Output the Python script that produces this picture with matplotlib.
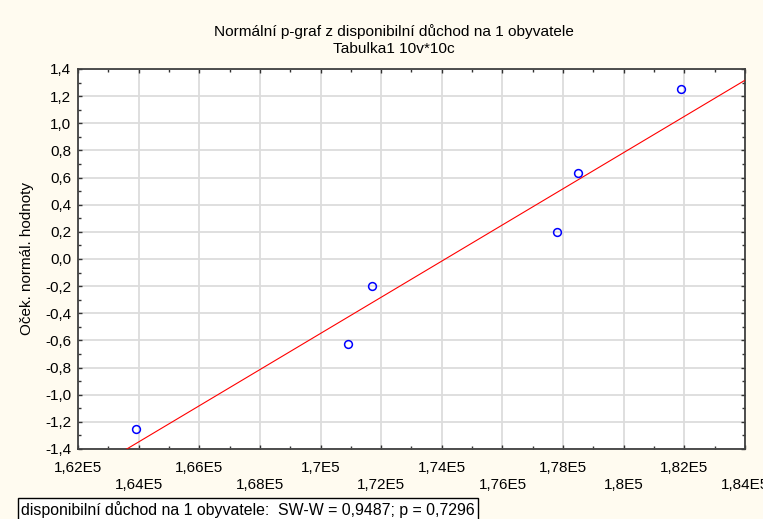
import numpy as np
import matplotlib
matplotlib.use('Agg')
import matplotlib.pyplot as plt
from matplotlib.ticker import MultipleLocator, FixedLocator

matplotlib.rcParams['font.family'] = ['Liberation Sans', 'DejaVu Sans']

# data
income = np.array([163900, 170900, 171700, 177800, 178500, 181900])
expected_normal = np.array([-1.25, -0.63, -0.20, 0.20, 0.63, 1.25])

x_ticks = np.arange(162000, 184001, 2000)
x_tick_labels = ['1,62E5', '1,64E5', '1,66E5', '1,68E5', '1,7E5', '1,72E5',
                 '1,74E5', '1,76E5', '1,78E5', '1,8E5', '1,82E5', '1,84E5']
y_ticks = np.round(np.arange(-1.4, 1.41, 0.2), 1)

title_text = 'Normální p-graf z disponibilní důchod na 1 obyvatele\nTabulka1 10v*10c'
legend_text = 'disponibilní důchod na 1 obyvatele:  SW-W = 0,9487; p = 0,7296'

bg = '#fffbf0'
fig = plt.figure(figsize=(7.63, 5.19), dpi=100, facecolor=bg)
ax = fig.add_axes([0.1022, 0.1349, 0.8742, 0.7322])
ax.set_facecolor('white')

# regression line of expected normal values on the data
slope, intercept = np.polyfit(income, expected_normal, 1)
xl = np.array([x_ticks[0], x_ticks[-1]])
ax.plot(xl, slope * xl + intercept, color='#ff0000', linewidth=0.8, zorder=3)

ax.plot(income, expected_normal, 'o', markerfacecolor='none',
        markeredgecolor='#0000ff', markersize=5.6, markeredgewidth=1.1, zorder=4)

ax.set_xlim(x_ticks[0], x_ticks[-1])
ax.set_ylim(-1.4, 1.4)

ax.xaxis.set_major_locator(FixedLocator(x_ticks))
ax.set_xticklabels([lab if i % 2 == 0 else '\n' + lab for i, lab in enumerate(x_tick_labels)])
ax.xaxis.set_minor_locator(MultipleLocator(1000))
ax.yaxis.set_major_locator(FixedLocator(y_ticks))
ax.set_yticklabels([('%.1f' % v).replace('.', ',').replace('-0,0', '0,0') for v in y_ticks])
ax.yaxis.set_minor_locator(MultipleLocator(0.1))

ax.tick_params(which='both', direction='in', top=True, right=True,
               labelsize=11, color='#333333')
ax.tick_params(which='major', length=3, width=1)
ax.tick_params(which='minor', length=2, width=1)
ax.tick_params(axis='x', which='major', pad=9)
ax.tick_params(axis='y', which='major', pad=5)

ax.grid(True, which='major', color='#dcdcdc', linewidth=1.3, zorder=0)
ax.set_axisbelow(True)
for s in ax.spines.values():
    s.set_color('#404040')
    s.set_linewidth(1.3)

ax.set_ylabel('Oček. normál. hodnoty', fontsize=11, labelpad=8)

fig.text(0.516, 0.953, title_text, ha='center', va='top', fontsize=11.1,
         linespacing=1.25)

fig.text(0.028, 0.001, legend_text, ha='left', va='bottom', fontsize=11.4,
         bbox=dict(boxstyle='square,pad=0.22', facecolor='white',
                   edgecolor='black', linewidth=1))

fig.savefig('out.png', dpi=100, facecolor=bg)
